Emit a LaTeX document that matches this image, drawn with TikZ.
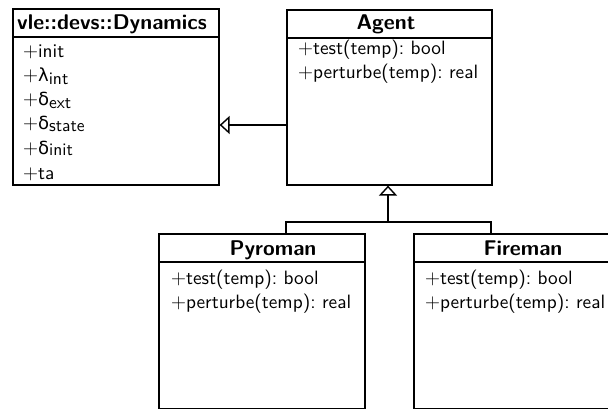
\documentclass[tikz,border=0pt]{standalone}
\usepackage{fontspec}
\setsansfont{lmsans10-regular}[Extension=.otf, BoldFont=lmsans10-bold]
\newfontfamily\grk{DejaVu Sans}
\usetikzlibrary{arrows.meta}
\frenchspacing
\tikzset{
  umlbox/.style={draw, line width=1.6pt, rectangle, anchor=north west, inner sep=0pt},
  sepline/.style={line width=1.4pt},
  title/.style={font=\sffamily\bfseries\fontsize{21.3}{24}\selectfont, inner sep=0pt, anchor=base},
  member/.style={font=\sffamily\fontsize{19.3}{22}\selectfont\frenchspacing, inner sep=0pt, anchor=base west},
  inherit/.style={line width=1.6pt, -{Triangle[open, length=10pt, width=18pt, line width=1.4pt]}},
  conn/.style={line width=1.6pt}
}
\newcommand{\gsub}[2]{\raisebox{-#1pt}{\fontsize{17.5}{19}\selectfont #2}}
\newcommand{\glam}{{\grk\fontsize{18}{20}\selectfont λ}}
\newcommand{\gdel}{{\grk\fontsize{18}{20}\selectfont δ}}
\begin{document}
\begin{tikzpicture}[x=1pt,y=-1pt]
\useasboundingbox (0,0) rectangle (608,409);
\clip (0,0) rectangle (608,409);
% Dynamics
\node[umlbox, minimum width=206pt, minimum height=176pt] (dyn) at (12,8) {};
\draw[sepline] (12,37) -- (218,37);
\node[title] (dynt) at (112,30) {vle::devs::Dynamics};
\node[member] (d1) at (23,58) {$+$init};
\node[member] (d2) at (23,82) {$+$\glam\gsub{3}{int}};
\node[member] (d3) at (23,106) {$+$\gdel\gsub{3}{ext}};
\node[member] (d4) at (23,130) {$+$\gdel\gsub{1.5}{state}};
\node[member] (d5) at (23,155) {$+$\gdel\gsub{0.5}{init}};
\node[member] (d6) at (23,179) {$+$ta};
% Agent
\node[umlbox, minimum width=205pt, minimum height=175pt] (agent) at (286,9) {};
\draw[sepline] (286,38) -- (491,38);
\node[title] (agentt) at (386,30) {Agent};
\node[member] (a1) at (298,55) {$+$test(temp): bool};
\node[member] (a2) at (298,79) {$+$perturbe(temp): real};
% Pyroman
\node[umlbox, minimum width=206pt, minimum height=175pt] (pyro) at (158,233) {};
\draw[sepline] (158,262) -- (364,262);
\node[title] (pyrot) at (273,255) {Pyroman};
\node[member] (p1) at (171,284) {$+$test(temp): bool};
\node[member] (p2) at (171,308) {$+$perturbe(temp): real};
% Fireman
\node[umlbox, minimum width=206pt, minimum height=175pt] (fire) at (413,233) {};
\draw[sepline] (413,262) -- (619,262);
\node[title] (firet) at (523,255) {Fireman};
\node[member] (f1) at (425,284) {$+$test(temp): bool};
\node[member] (f2) at (425,308) {$+$perturbe(temp): real};
% connectors
\coordinate (join) at (388,222);
\draw[inherit] (agent.west |- 0,125) -- (dyn.east |- 0,125);
\draw[conn] (pyro.north -| 286,0) |- (join);
\draw[conn] (fire.north -| 491,0) |- (join);
\draw[inherit] (join) -- (agent.south -| join);
\end{tikzpicture}
\end{document}
